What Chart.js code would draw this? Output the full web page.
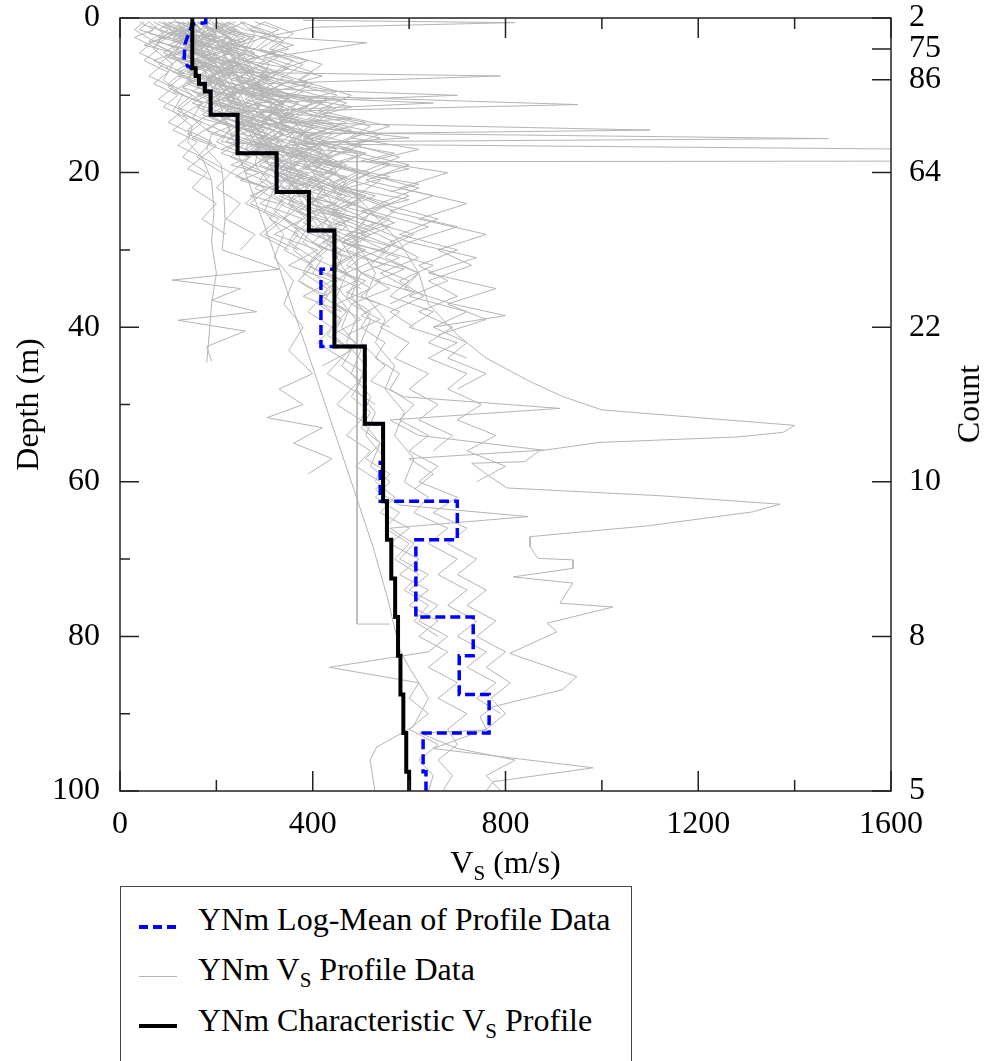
<!DOCTYPE html>
<html>
<head>
<meta charset="utf-8">
<script src="https://cdn.jsdelivr.net/npm/chart.js@4.4.1/dist/chart.umd.min.js"></script>
<style>
  html, body { margin: 0; padding: 0; background: #fff; }
  #wrap { position: relative; width: 987px; height: 1061px; overflow: hidden;
          font-family: 'Liberation Serif', 'Times New Roman', serif; color: #000; }
  #chart { position: absolute; left: 0; top: 0; }
  .txt { position: absolute; font-size: 32px; line-height: 32px; white-space: nowrap; }
  sub { font-size: 21px; line-height: 0; vertical-align: -7px; }
  #xtitle { left: 120px; width: 771px; top: 846px; text-align: center; }
  #ctitle { left: 968px; top: 404px; transform: translate(-50%, -50%) rotate(-90deg); }
  #legend { position: absolute; left: 120px; top: 886px; width: 510px; height: 220px;
            border: 1.5px solid #444; background: #fff; }
  .sample { position: absolute; left: 18px; width: 38px; }
  .ltxt { left: 77px; }
</style>
</head>
<body>
<div id="wrap">
  <canvas id="chart" width="987" height="860"></canvas>
  <div class="txt" id="xtitle">V<sub>S</sub> (m/s)</div>
  <div class="txt" id="ctitle">Count</div>
  <div id="legend">
    <div class="sample" style="top:38px;height:3.5px;background:repeating-linear-gradient(90deg,#0000ff 0 9px,transparent 9px 14px);"></div>
    <div class="txt ltxt" style="top:16px;">YNm Log-Mean of Profile Data</div>
    <div class="sample" style="top:89px;height:1px;background:#b4b4b4;"></div>
    <div class="txt ltxt" style="top:66px;">YNm V<sub>S</sub> Profile Data</div>
    <div class="sample" style="top:137px;height:4px;background:#000;"></div>
    <div class="txt ltxt" style="top:117px;">YNm Characteristic V<sub>S</sub> Profile</div>
  </div>
</div>
<script>
// ---------- data (depth in m, Vs in m/s) ----------
// characteristic profile: layer boundaries and velocities
const charBounds = [0, 6.5, 7.5, 8.5, 9.5, 12.5, 17.5, 22.5, 27.5, 42.5, 52.5, 62.5, 67.5, 72.5, 77.5, 82.5, 87.5, 92.5, 97.5, 100];
const charVs     = [150, 157, 164, 176, 188, 244, 325, 392, 445, 508, 546, 554, 563, 571, 577, 582, 588, 594, 600];

// log-mean of profile data: vertices of the dashed line
const logMeanDepth = [0, 0.6, 0.8, 2, 3.3, 5.4, 6.2, 6.5, 6.5, 7.5, 7.5, 8.5, 8.5, 9.5, 9.5, 12.5, 12.5, 17.5, 17.5, 22.5, 22.5, 27.5, 27.5, 32.5, 32.5, 42.5, 42.5, 52.5, 52.5, 57.5, 57.5, 62.5, 62.5, 67.5, 67.5, 77.5, 77.5, 82.5, 82.5, 87.5, 87.5, 92.5, 92.5, 97.5, 97.5, 100];
const logMeanVs    = [178, 178, 150, 143, 135, 133, 140, 150, 157, 157, 164, 164, 176, 176, 188, 188, 244, 244, 325, 325, 392, 392, 445, 445, 417, 417, 508, 508, 546, 546, 540, 540, 700, 700, 614, 614, 733, 733, 704, 704, 766, 766, 629, 629, 635, 635];

// right axis: number of profiles at depth
const countDepths = [0, 4, 8, 20, 40, 60, 80, 100];
const countLabels = ['2', '75', '86', '64', '22', '10', '8', '5'];

// individual Vs profiles, each a list of [depth, Vs]
const grayProfiles = [
  [[0.5,120],[1.5,150],[2.5,110],[3.5,170],[5,140],[6.5,210],[8,180],[9.5,260],[11,230],[12.5,300],[14,270],[16,340],[18,310],[20,380],[22,350],[24,420]],
  [[0.8,80],[2,60],[3,130],[4.5,90],[6,160],[7.5,120],[9,200],[10.5,150],[12,240],[14,190],[16,260],[18,230],[20,300]],
  [[0.5,200],[1.5,240],[3,190],[4,280],[5.5,230],[7,300],[8.5,260],[10,340],[12,300],[14,380],[16,350],[17,420],[19,380],[21,440],[23,410],[25,470],[27,430],[29,500]],
  [[1,140],[2,100],[3,160],[4,130],[5,180],[6,150],[7.5,210],[9,170],[10.5,240],[12,200],[13.5,270],[15,230],[16.5,300],[18,260]],
  [[0.5,60],[1.5,40],[2.5,90],[3.5,50],[4.5,110],[5.5,70],[7,130],[8.5,100],[10,150],[11.5,120],[13,170],[14.5,140],[16,190],[18,160],[20,210]],
  [[0.5,220],[1.5,260],[2.5,330],[3.2,512],[5.2,297],[6.5,350],[8,300],[9.5,380],[11,330],[13,420],[15,370],[17,450],[19,400],[21,480],[23,430],[25,520]],
  [[0.3,380],[0.6,820],[1.2,400],[2.5,300],[4,350],[5.5,260],[7,320],[8.5,280],[10,360],[12,310],[14,400],[16,360],[18,440]],
  [[1,170],[2,200],[3,160],[4,230],[5,190],[6,250],[7,210],[7.5,790],[8.5,300],[10,260],[11.5,340],[13,300],[15,380],[17,330],[19,420],[21,370],[23,460]],
  [[0.5,100],[1.5,130],[2.5,80],[3.5,150],[5,110],[6,180],[7,140],[8,200],[9,160],[10,230],[11,190],[12,260],[13,220],[14.5,290],[16,250],[17.5,320],[19,280],[20.5,350],[22,310],[24,380],[26,340],[28,400]],
  [[0.5,150],[2,180],[3,140],[4.5,200],[6,170],[7.5,230],[9,190],[10,270],[11,650],[12,300],[13.5,270],[15,340],[16.5,300],[18,380],[20,330],[22,400]],
  [[1,90],[2,120],[3,70],[4,140],[5,100],[6,160],[7,120],[8,190],[9.5,150],[11,210],[12.5,170],[14,240],[16,200],[18,270],[20,230],[22,300],[24,260],[26,330],[28,290],[30,350]],
  [[0.5,180],[1.5,210],[2.5,170],[3.5,250],[5,210],[6.5,280],[8,240],[9.5,320],[11,280],[12.5,360],[14,320],[15.5,420],[16.3,380],[17.1,1900],[18.5,1900],[18.6,360],[20,450],[22,400],[24,480],[26,440],[28,520],[30,470],[32,550]],
  [[0.5,140],[2,170],[4,150],[6,200],[8,180],[10,240],[12,220],[13.5,300],[14.8,350],[15.6,1470],[16,420],[17.5,380],[19,450],[21,410],[23,480]],
  [[0.5,130],[1.5,110],[2.5,160],[3.5,130],[4.5,190],[5.5,150],[6.5,220],[8,180],[9.5,250],[11,210],[12.5,280],[14,240],[15.5,310],[17,270],[18.5,340],[20,300],[22,370],[24,330],[26,400],[28,360],[30,430],[32,390],[34,460]],
  [[1,220],[2,180],[3,250],[4,200],[5,280],[6.5,230],[8,310],[9.5,260],[11,340],[12.5,290],[14,380],[15.5,600],[16.5,340],[18,420],[20,370]],
  [[0.5,40],[1.5,70],[2.5,30],[4,80],[5.5,50],[7,100],[8.5,70],[10,120],[11.5,90],[13,140],[14.5,110],[16,160],[18,130],[20,180],[22,150],[24,200],[26,170],[28,220]],
  [[0.5,160],[1.5,190],[2.5,230],[3.5,180],[5,250],[6.5,200],[8,270],[9,230],[10,700],[11,280],[12.5,250],[14,330],[16,290],[18,360],[20,320],[22,390],[24,350],[26,430]],
  [[1,120],[2.5,160],[4,130],[5.5,190],[7,150],[8.5,220],[10,180],[11.5,260],[13,220],[14.5,300],[16,260],[17.5,330],[19,290],[21,370],[23,330],[25,400],[27,360],[29,440],[31,400],[33,470],[35,430]],
  [[0.5,260],[1.5,220],[2.5,300],[3.5,250],[5,330],[6.5,280],[8,360],[9.5,300],[11,400],[12.5,340],[14,450],[15.5,380],[17,480],[18.5,420],[20,520],[22,460],[24,540],[26,480]],
  [[0.5,90],[2,110],[3.5,75],[5,130],[6.5,95],[8,150],[9.5,110],[11,170],[12.5,130],[14,190],[15.5,150],[17,210]],
  [[1,200],[2,170],[3,220],[4,190],[5,240],[6,210],[7,270],[8,230],[9,300],[10.5,260],[12,330],[13.5,290],[15,360],[16.5,320],[18,390],[19.5,350],[21,420],[23,380],[25,450],[27,410],[29,480],[31,440]],
  [[0.5,140],[1.5,170],[2.5,120],[3.5,180],[4.5,150],[6,200],[7.5,160],[9,230],[10.5,190],[12,260],[13,480],[14,240],[15.5,300],[17,260],[18.5,330]],
  [[0.5,70],[1.5,100],[3,60],[4.5,110],[6,80],[7.5,130],[9,100],[10.5,150],[12,120],[13.5,170],[15,140],[16.5,200],[18,170],[20,230],[22,200],[24,250],[26,220],[28,280],[30,250]],
  [[1,180],[2,150],[3,200],[4.5,170],[6,230],[7.5,190],[9,260],[10.5,220],[12,300],[13.5,260],[15,340],[16.5,290],[18,370],[19.5,330],[21,410],[22.5,360],[24,440],[25.5,390],[27,470],[29,420],[31,500],[33,460]],
  [[0.5,110],[1.5,80],[2.5,140],[3.5,100],[4.5,160],[5.5,120],[7,180],[8.5,140],[10,200],[11.5,160],[13,220],[14.5,180],[16,250],[17.5,210],[19,280],[20.5,240],[22,310],[24,270],[26,340],[28,300],[30,370]],
  [[0.5,300],[1.5,270],[2.5,330],[4,290],[5.5,360],[7,320],[8.5,400],[10,350],[11.5,440],[13,390],[14.5,480],[16,420],[17.5,510],[19,450],[21,540],[23,490],[25,570],[27,520],[29,600],[31,550],[33,620],[35,580]],
  [[0.5,50],[1.5,30],[3,70],[4.5,40],[6,90],[7.5,60],[9,110],[10.5,80],[12,130],[13.5,100],[15,150],[16.5,120],[18,170],[19.5,140],[21,190]],
  [[0.5,230],[1.5,190],[2.5,260],[3.5,210],[4.5,280],[6,240],[7.5,310],[9,270],[10.5,350],[12,300],[13.5,380],[15,330],[16.5,410],[18,360],[19.5,440],[21,390],[23,470],[25,420],[27,500],[29,450]],
  [[1,160],[2,130],[3,190],[4,150],[5,210],[6,170],[7,240],[8,200],[9,260],[10,220],[11.5,290],[13,250],[14.5,320],[16,280],[17.5,350],[19,310],[20.5,380],[22,340],[23.5,410],[25,370],[27,440],[29,400],[31,470],[33,430],[35,500]],
  [[0.5,190],[2,230],[3.5,200],[5,260],[6.5,220],[8,290],[9.5,250],[11,320],[12.5,280],[14,350],[15.5,310],[17,390],[18.5,340],[20,420]],
  [[0.5,110],[1,160],[2,120],[2.5,200],[3.5,150],[4,230],[5,170],[6,250],[7,200],[8,280],[9,230],[10,310],[11,260],[12,350]],
  [[0.5,240],[1.5,200],[2.5,280],[3.5,230],[4.5,320],[5.5,260],[6.5,350],[7.5,290],[8.5,390],[9.5,320],[10.5,430],[12,360],[13.5,470],[15,400],[16.5,500],[18,430]],
  [[1,150],[2,120],[3,170],[4,140],[5,190],[6,160],[7,210],[8,180],[9,230],[10,200],[11,250],[12,220],[13,280],[14,240],[15,310],[16,270],[17,340],[18,300],[19,370],[20,330],[21,400],[22,360],[23,430],[24,390],[25,460]],
  [[0.5,80],[1.5,120],[2.5,100],[3.5,150],[4.5,120],[5.5,170],[7,140],[8.5,190],[10,160],[11.5,220],[13,190],[14.5,250],[16,220],[17.5,280],[19,250],[20.5,310],[22,280],[24,340],[26,310],[28,370],[30,340],[32,400],[34,370],[36,430]],
  [[0.5,210],[2,250],[3.5,220],[5,290],[6.5,250],[8,330],[9.5,290],[11,370],[12.5,320],[14,410],[15.5,360],[17,450],[18.5,400],[20,490],[21.5,440],[23,530],[24.5,470],[26,560],[28,500],[30,590]],
  [[0.5,130],[1.5,160],[2.5,140],[3.5,180],[4.5,160],[5.5,200],[6.5,180],[7.5,220],[8.5,200],[9.5,240],[10.5,220],[11.5,260],[12.5,240],[13.5,290],[14.5,260],[15.5,310],[16.5,280],[17.5,330],[18.5,300],[19.5,360],[20.5,330],[22,390],[23.5,350],[25,420],[26.5,380],[28,450],[29.5,410],[31,480],[32.5,440],[34,510],[35.5,470],[37,540],[38.5,500],[40,560]],
  [[1,60],[2,100],[3,80],[4,120],[5,95],[6,140],[7,110],[8,160],[9,130],[10,180],[11,150],[12,200],[13,170],[14,230],[15,190],[16,250],[17,210],[18,270],[19,230],[20,290],[21,250],[22,310],[23,270],[24,330]],
  [[0.5,170],[1.5,140],[2.5,200],[3.5,170],[4.5,230],[5.5,190],[6.5,260],[7.5,210],[8.5,290],[9.5,240],[10.5,320],[11.5,260],[12.5,350],[13.5,290],[14.5,380],[15.5,320],[16.5,410],[17.5,350],[18.5,440],[19.5,380],[20.5,470],[22,410],[23.5,500],[25,440],[26.5,530],[28,470],[29.5,560],[31,500],[32.5,590],[34,530],[35.5,610],[37,560]],
  [[0.5,280],[1.5,330],[2.5,290],[3.5,360],[4.5,310],[5.5,390],[6.5,340],[7.5,420],[8.5,360],[9.5,450],[10.5,390],[11.5,480],[12.5,420],[13.5,510],[14.5,450],[15.5,540],[16.5,480],[17.5,570],[18.5,500],[19.5,600],[20.5,530],[21.5,620],[22.5,560]],
  [[1,100],[2,140],[3,110],[4,160],[5,130],[6,190],[7,150],[8,210],[9,170],[10,240],[11,190],[12,270],[13,220],[14,300],[15,250],[16,330],[17,280],[18,360],[19,310],[20,390],[21,340],[22,420],[23,370],[24,450],[25,400],[26,480],[27,430],[28,510],[29,460],[30,540]],
  [[0.5,190],[3,230],[6,210],[9,260],[10,330],[11.2,950],[12,380],[13.5,330],[14.5,1100],[15,400],[17,360],[19,430],[21,390]],
  [[0.5,250],[2,320],[4,280],[6,380],[8,330],[10,450],[12,390],[14,520],[16,460],[18,580],[20,500],[22,620],[24,540],[26,660],[28,580],[30,700],[32,620],[34,680],[36,600],[38,720],[40,650]],
  [[1,200],[3,260],[5,230],[7,330],[9,290],[11,420],[13,360],[15,500],[17,430],[19,560],[21,480],[23,600],[25,520],[27,640],[29,560],[31,620],[33,540],[35,600]],
  [[0.5,300],[2,360],[4,310],[6,420],[8,370],[10,480],[12,410],[14,560],[15.5,480],[17,620],[18.5,520],[20,680],[22,580],[24,720],[26,620],[28,760],[30,660],[32,730],[34,640],[36,700],[38,620],[40,690],[42,640],[44,720]],
  [[1,180],[3,240],[5,210],[7,280],[9,250],[11,340],[13,300],[15,400],[17,350],[19,460],[21,400],[23,510],[25,440],[27,560],[29,480],[31,580],[33,500],[35,560],[37,480],[39,540],[41,470]],
  [[0.5,160],[2,210],[4,260],[6,230],[8,300],[10,270],[12,360],[14,320],[16,430],[18,380],[20,500],[22,440],[24,560],[26,500],[28,610],[30,540],[32,650],[34,580],[36,630],[38,560],[40,610]],
  [[1,230],[3,280],[5,250],[7,310],[9,280],[11,370],[13,330],[15,440],[17,390],[19,470],[21,420],[23,490],[25,430],[27,520],[29,460],[31,540],[33,470],[35,520],[37,450],[39,500],[41,440],[43,480],[45,420]],
  [[0.5,120],[2,170],[4,140],[6,210],[8,180],[10,280],[12,240],[14,350],[16,300],[18,420],[20,360],[22,450],[24,390],[26,480],[28,420],[30,510],[32,440],[34,490],[36,420],[38,470]],
  [[1,270],[3,340],[5,300],[7,400],[9,350],[11,470],[13,400],[15,540],[17,460],[19,600],[21,510],[23,650],[25,560],[27,700],[29,600],[31,740],[33,640],[35,780],[37,680],[39,760],[41,660]],
  [[0.5,90],[2,140],[4,110],[6,170],[8,140],[10,210],[12,180],[14,260],[16,220],[18,300],[20,260],[22,340],[24,290],[26,380],[28,320],[30,410],[32,350],[34,440],[36,380],[38,460]],
  [[1,210],[2.5,270],[4,230],[5.5,300],[7,260],[8.5,340],[10,290],[11.5,390],[13,330],[14.5,450],[16,380],[17.5,510],[19,430],[20.5,560],[22,470],[23.5,600],[25,500],[26.5,570],[28,490]],
  // deeper profiles
  [[0.5,60],[2,90],[4,70],[6,110],[8,90],[10,130],[12,110],[14,150],[16,140],[18,170],[21,190],[25,195],[29,190],[33,200],[37,190],[41,185],[44.6,180]],
  [[1,100],[3,130],[5,110],[7,150],[9,130],[11,170],[13,150],[15,190],[17,180],[19,210],[21,214],[26,218],[30,212],[32.5,330],[33.9,108],[35,250],[36.5,190],[38,284],[39.1,120],[40.5,260],[42.5,180],[44.4,190]],
  [[0.5,150],[2,180],[4,160],[6,200],[8,220],[10,250],[12,230],[14,280],[16,300],[18,340],[20,320],[22,370],[24,350],[26,400],[28,380],[30,420],[32,390],[34,450],[36,420],[38,470],[40,440],[42,490],[44,460],[46,510],[48,480],[50,530]],
  [[0.5,200],[2,240],[4,210],[6,270],[8,250],[10,300],[12,280],[14,340],[16,310],[18,380],[20,350],[22,420],[24,400],[26,460],[28,430],[30,500],[32,470],[34,540],[36,500],[38,580],[40,540],[42,600],[44,570],[46,640],[48,600],[50,660],[52,620],[54,690],[56,650]],
  [[1,130],[3,160],[5,140],[7,180],[9,200],[11,230],[13,210],[15,260],[17,280],[19,310],[21,290],[23,340],[25,320],[27,370],[29,350],[31,400],[33,380],[35,430],[37,410],[39,460],[41,430],[43,480]],
  [[0.5,250],[2,280],[4,260],[6,310],[8,290],[10,350],[12,330],[14,390],[16,370],[18,430],[20,400],[22,470],[24,440],[26,510],[28,480],[30,550],[32,520],[34,600],[36,560],[38,650],[40,600],[42,700],[44,640],[46,720],[48,680],[50,750],[52,700],[54,780],[56,720],[58,800],[60,740]],
  [[1,180],[3,210],[5,250],[7,230],[9,290],[11,330],[13,310],[15,380],[17,420],[19,400],[21,470],[23,450],[25,520],[27,500],[29,570],[31,540],[33,620],[35,590],[37,690],[38.5,800],[40,650],[42,720],[44,680],[46,760],[48,700]],
  [[0.5,120],[3,150],[6,180],[9,210],[12,240],[15,270],[18,300],[21,330],[24,360],[26,340],[28,380],[30,360],[32,400],[34,370],[36,420],[38,390],[40,440],[42,410],[44,460],[46,430],[48,480],[50,450],[52,500],[54,470],[56,520],[58,490],[60,540]],
  [[1,140],[4,170],[7,200],[10,230],[13,260],[16,290],[19,280],[22,320],[25,300],[28,340],[31,320],[34,360],[37,340],[40,380],[43,350],[46,400],[48,330],[50,380],[51.7,305],[53,420],[55,360],[57,440],[59,390]],
  [[0.5,170],[3,200],[6,230],[9,260],[12,290],[15,320],[18,350],[21,380],[24,410],[27,440],[30,470],[33,500],[36,480],[39,520],[42,500],[45,550],[47,520],[49,590],[50.5,913],[52,560],[54,620],[55.9,878],[57,600],[59,650],[61,610]],
  [[0,190],[2,170],[4,220],[7,260],[10,300],[13,350],[17,420],[21,460],[25,520],[29,580],[33,620],[37,640],[41,700],[44,760],[47,850],[49,920],[50.7,1000],[52.7,1400],[53.6,1376],[54.2,1282],[54.9,996],[56,870],[57.4,840],[57.6,730],[59,760],[60.8,803],[61.8,1120],[62.9,1370],[63.9,1312],[65.7,1095],[67.1,851],[68.4,851],[69.9,867],[70.1,940],[71.2,940],[72.3,816],[73.1,940],[75.7,913],[76.2,1023],[78.3,886],[79.4,907],[82.2,809],[85.2,948],[86.9,918],[89.1,774],[90.4,747],[92.1,761],[92.5,622],[94.5,700],[96,820],[98,760],[100,790]],
  [[0,150],[5,160],[10,200],[20,260],[30,318],[40,372],[50,426],[60,480],[68.4,525],[75,555],[81.8,581],[84,600],[88,640],[91.7,608],[94.3,533],[96,519],[100,529]],
  [[0,110],[2,140],[4,120],[6,160],[8,140],[10,190],[12,170],[14,230],[16,210],[17.5,492],[78.4,492],[78.4,560]],
  [[0.5,170],[2,200],[4,180],[6,220],[8,250],[10,230],[12,280],[14,310],[16,290],[18,340],[20,370],[22,350],[24,400],[26,430],[28,410],[30,460],[32,440],[34,490],[36,470],[38,520],[40,500],[42,550],[44,530],[46,580],[48,560],[50,610],[52,580],[54,640],[56,600],[58,660],[60,620],[62,700],[64,650],[66,720],[68,680],[70,740],[72,700],[74,760],[76,720],[78,780],[80,740],[82,800],[84,760],[86,810],[88,770],[90,800],[92,760],[94.5,650],[97,982],[98.8,774],[100,760]],
  [[1,130],[3,160],[5,150],[7,190],[9,220],[11,200],[13,250],[15,280],[17,260],[19,310],[21,340],[23,320],[25,370],[27,400],[29,380],[31,420],[33,400],[35,440],[37,420],[39,460],[41,440],[43,480],[45,460],[47,500],[49,480],[51,520],[53,500],[55,540],[57,510],[59,560],[61,530],[63,580],[64.5,847],[66,560],[68,610],[70,580],[72,640],[74,600],[76,660],[78,620],[80,680],[82,640],[84,434],[86,620],[88,600],[90,640],[92,600],[94,660],[96,620],[98,650],[100,640]],
  [[0.5,140],[3,170],[6,200],[9,230],[12,260],[15,290],[18,320],[21,350],[24,380],[27,410],[30,440],[33,470],[36,450],[39,490],[42,470],[45,510],[48,490],[51,530],[54,510],[57,550],[60,530],[62,570],[64,540],[66,600],[68,560],[70,620],[72,580],[74,640],[76,600],[78,660],[80,620],[82,680],[84,640],[86,700],[88,660],[90,720],[92,680],[94,700],[96,660],[98,690],[100,670]],
  [[0.5,200],[3,230],[6,260],[9,290],[12,320],[15,350],[18,380],[21,410],[24,440],[27,470],[30,500],[33,530],[36,510],[39,550],[42,530],[45,570],[48,550],[51,590],[54,570],[57,610],[60,590],[62,640],[64,610],[66,680],[68,640],[70,700],[72,660],[74,720],[76,680],[78,740],[80,700],[82,760],[84,720],[86,780],[88,740],[90,790]],
  [[1,160],[4,190],[7,220],[10,250],[13,280],[16,310],[19,340],[22,370],[25,400],[28,430],[31,460],[34,440],[37,480],[40,460],[43,500],[46,480],[49,520],[52,500],[55,540],[58,520],[60,560],[62,530],[64,580],[66,550],[68,600],[70,570],[72,620],[74,590],[76,640],[78,610],[80,660]]
];

// ---------- build datasets ----------
const charPoints = [];
charVs.forEach((v, i) => {
  charPoints.push({ x: v, y: charBounds[i] });
  charPoints.push({ x: v, y: charBounds[i + 1] });
});
const logMeanPoints = logMeanDepth.map((d, i) => ({ x: logMeanVs[i], y: d }));

const datasets = [
  { label: 'YNm Characteristic Vs Profile', data: charPoints, borderColor: '#000', borderWidth: 4, order: 0 },
  { label: 'YNm Log-Mean of Profile Data', data: logMeanPoints, borderColor: '#0000ff', borderWidth: 3.5, borderDash: [10, 5], order: 1 }
];
grayProfiles.forEach(p => {
  datasets.push({ label: 'YNm Vs Profile Data', data: p.map(([d, v]) => ({ x: v, y: d })), borderColor: '#b4b4b4', borderWidth: 1, order: 2 });
});
datasets.forEach(ds => { ds.showLine = true; ds.pointRadius = 0; ds.tension = 0; ds.fill = false; });

const FONT = { family: "'Liberation Serif', 'Times New Roman', serif", size: 32, lineHeight: 1 };

// vertical axes: no extra end padding, so the plot area starts where the layout says
function noEndPadding(s) { s.paddingTop = 0; s.paddingBottom = 0; }

// frame and inward tick marks
const frameTicks = {
  id: 'frameTicks',
  afterDatasetsDraw(chart) {
    const { ctx, chartArea: a, scales } = chart;
    ctx.save();
    ctx.strokeStyle = '#222';
    ctx.lineWidth = 1.5;
    ctx.beginPath();
    for (let v = 0; v <= 100; v += 10) {
      const y = scales.y.getPixelForValue(v);
      const len = v % 20 === 0 ? 19 : 10;
      ctx.moveTo(a.left, y); ctx.lineTo(a.left + len, y);
    }
    for (let v = 0; v <= 1600; v += 200) {
      const x = scales.x.getPixelForValue(v);
      const len = v % 400 === 0 ? 20 : 11;
      ctx.moveTo(x, a.bottom); ctx.lineTo(x, a.bottom - len);
      ctx.moveTo(x, a.top); ctx.lineTo(x, a.top + len);
    }
    countDepths.forEach(d => {
      const y = scales.yCount.getPixelForValue(d);
      ctx.moveTo(a.right, y); ctx.lineTo(a.right - 19, y);
    });
    ctx.stroke();
    ctx.strokeRect(a.left, a.top, a.right - a.left, a.bottom - a.top);
    ctx.restore();
  }
};

new Chart(document.getElementById('chart').getContext('2d'), {
  type: 'scatter',
  data: { datasets },
  plugins: [frameTicks],
  options: {
    responsive: false,
    animation: false,
    events: [],
    layout: { padding: { top: 18, right: 0, bottom: 0, left: 0 } },
    plugins: { legend: { display: false }, tooltip: { enabled: false } },
    scales: {
      x: {
        type: 'linear', position: 'bottom', min: 0, max: 1600,
        afterFit: s => { s.height = 69; },
        grid: { display: false, drawTicks: false },
        border: { display: false },
        ticks: { stepSize: 400, padding: 18, font: FONT, color: '#000', maxRotation: 0, callback: v => String(v) }
      },
      y: {
        type: 'linear', position: 'left', min: 0, max: 100, reverse: true,
        afterFit: s => { s.width = 120; noEndPadding(s); },
        grid: { display: false, drawTicks: false },
        border: { display: false },
        ticks: { stepSize: 20, padding: 20, font: FONT, color: '#000', callback: v => String(v) },
        title: { display: true, text: 'Depth (m)', font: FONT, color: '#000', padding: { top: 14, bottom: 0 } }
      },
      yCount: {
        type: 'linear', position: 'right', min: 0, max: 100, reverse: true,
        afterFit: s => { s.width = 96; noEndPadding(s); },
        afterBuildTicks: s => { s.ticks = countDepths.map(v => ({ value: v })); },
        grid: { display: false, drawTicks: false },
        border: { display: false },
        ticks: {
          autoSkip: false, padding: 18, font: FONT, color: '#000',
          callback: v => countLabels[countDepths.indexOf(v)]
        }
      }
    }
  }
});
</script>
</body>
</html>
